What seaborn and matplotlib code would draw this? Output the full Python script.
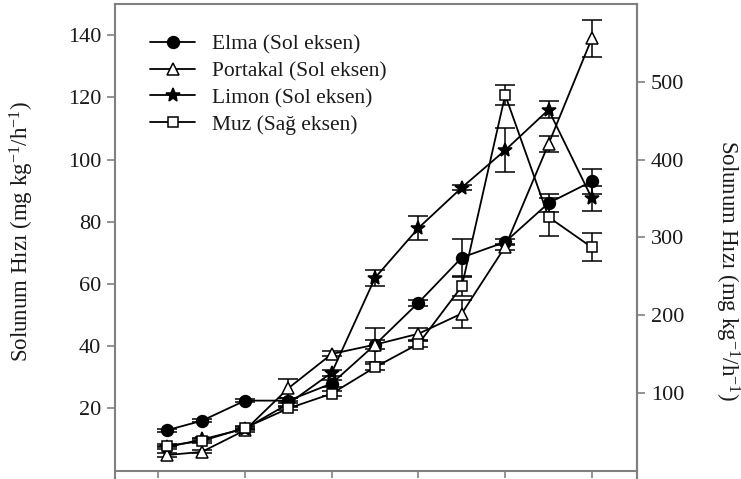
import matplotlib
matplotlib.use("Agg")
import matplotlib.pyplot as plt
import seaborn as sns
import pandas as pd
from matplotlib.lines import Line2D

# Sampling times and respiration rates
days = [1, 5, 10, 15, 20, 25, 30, 35, 40, 45, 50]
x_ticks = [0, 10, 20, 30, 40, 50]

elma = [13, 16, 22.5, 22.5, 28, 40.5, 54, 68.5, 73.5, 86, 93]
elma_err = [0.5, 0.5, 0.5, 0.8, 1, 1.5, 1, 6, 1, 3, 4]

portakal = [5, 6, 13, 26.5, 37.5, 40.5, 44, 50.5, 72, 105, 139]
portakal_err = [0.5, 0.5, 0.5, 3, 0.8, 5.5, 2, 4.5, 1, 2.7, 6]

limon = [7.5, 10, 13.5, 21.5, 31.5, 62, 78, 91, 103, 116, 87.5]
limon_err = [0.5, 0.5, 0.5, 0.8, 1, 2.5, 4, 0.8, 7, 2.7, 4]

muz = [32, 38, 55, 80, 99, 133, 163, 237, 483, 326, 287]
muz_err = [2, 3, 2, 2, 3, 4, 4, 12, 13, 24, 18]

left_ticks = [20, 40, 60, 80, 100, 120, 140]
right_ticks = [100, 200, 300, 400, 500]

labels = ["Elma (Sol eksen)", "Portakal (Sol eksen)", "Limon (Sol eksen)", "Muz (Sağ eksen)"]
ylabel = "Solunum Hızı (mg kg$^{-1}$/h$^{-1}$)"

sns.set_theme(style="ticks")
plt.rcParams["font.family"] = ["Liberation Serif", "DejaVu Serif"]
plt.rcParams["mathtext.default"] = "regular"

GRAY = "#808080"
INK = "#1a1a1a"
TICK_FS = 16
LEG_FS = 15.5
LAB_FS = 16.5

fig = plt.figure(figsize=(7.41, 4.79), dpi=100)
ax = fig.add_axes([115 / 741, 0.0, 522 / 741, 475 / 479])
ax2 = ax.twinx()

styles = {
    "o": dict(marker="o", markersize=8.5, markerfacecolor="black"),
    "^": dict(marker="^", markersize=8, markerfacecolor="white"),
    "*": dict(marker="*", markersize=10, markerfacecolor="black"),
    "s": dict(marker="s", markersize=7.5, markerfacecolor="white"),
}

def draw(axis, vals, errs, key):
    df = pd.DataFrame({"gun": days, "hiz": vals})
    axis.errorbar(days, vals, yerr=errs, fmt="none", ecolor="black",
                  elinewidth=1.1, capsize=7, capthick=1.1, zorder=2)
    sns.lineplot(data=df, x="gun", y="hiz", ax=axis, color="black",
                 linewidth=1.3, markeredgecolor="black", markeredgewidth=1.1,
                 legend=False, zorder=3, **styles[key])

draw(ax, elma, elma_err, "o")
draw(ax, portakal, portakal_err, "^")
draw(ax, limon, limon_err, "*")
draw(ax2, muz, muz_err, "s")

ax.set_xlim(-5, 55.2)
ax.set_ylim(-2.7, 150)
ax2.set_ylim(-10.8, 600)

ax.set_xticks(x_ticks)
ax.set_xticklabels([])
ax.set_yticks(left_ticks)
ax2.set_yticks(right_ticks)

ax.spines["bottom"].set_position(("data", 0))
for sp in ax.spines.values():
    sp.set_color(GRAY)
    sp.set_linewidth(1.5)
for name, sp in ax2.spines.items():
    sp.set_visible(name == "right")
    sp.set_color(GRAY)
    sp.set_linewidth(1.5)

ax.tick_params(axis="y", direction="out", length=6, width=1.2, color=GRAY,
               labelsize=TICK_FS, labelcolor=INK, pad=4)
ax.tick_params(axis="x", direction="out", length=5, width=1.2, color=GRAY)
ax2.tick_params(axis="y", direction="out", length=6, width=1.2, color=GRAY,
                labelsize=TICK_FS, labelcolor=INK, pad=4)

ax.set_xlabel("")
ax.set_ylabel(ylabel, fontsize=LAB_FS, color=INK)
ax2.set_ylabel(ylabel, fontsize=LAB_FS, color=INK, rotation=270)
ax.yaxis.set_label_coords(-0.178, 0.52)
ax2.yaxis.set_label_coords(1.172, 0.44)
ax.yaxis.label.set_va("center")
ax2.yaxis.label.set_va("center")

handles = [Line2D([], [], color="black", linewidth=1.3, markeredgecolor="black",
                  markeredgewidth=1.1, **styles[k]) for k in ["o", "^", "*", "s"]]
ax.legend(handles, labels, loc="upper left", bbox_to_anchor=(0.067, 0.935),
          frameon=False, fontsize=LEG_FS, borderpad=0, borderaxespad=0,
          handlelength=2.1, handletextpad=0.8, labelspacing=0.3)
for t in ax.get_legend().get_texts():
    t.set_color(INK)

fig.savefig("out.png", dpi=100)
